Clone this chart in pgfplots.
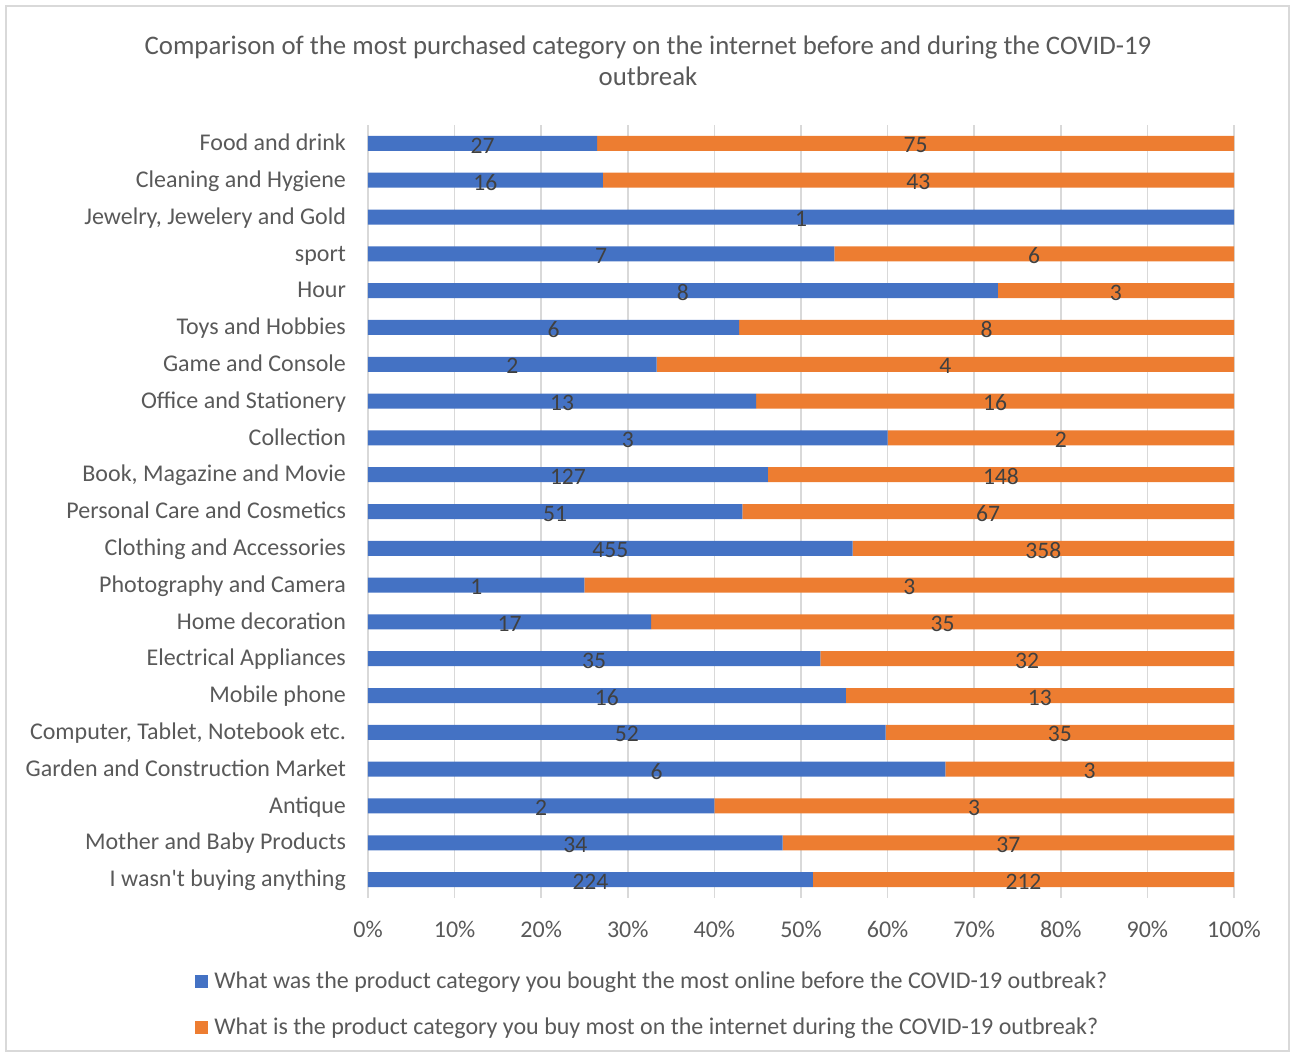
\documentclass[border=0pt]{standalone}
\usepackage{pgfplots}
\usepackage{pgfplotstable}
\pgfplotsset{compat=1.18}
\usepackage{fontspec}
\setmainfont{Carlito}
\definecolor{cblue}{HTML}{4472C4}
\definecolor{corange}{HTML}{ED7D31}
\definecolor{txt}{HTML}{595959}
\definecolor{lbl}{HTML}{404040}
\definecolor{gridc}{HTML}{D9D9D9}

\pgfplotstableread{
idx pA pB nA nB
0 26.47 73.53 27 75
1 27.12 72.88 16 43
2 100 0 1 {}
3 53.85 46.15 7 6
4 72.73 27.27 8 3
5 42.86 57.14 6 8
6 33.33 66.67 2 4
7 44.83 55.17 13 16
8 60 40 3 2
9 46.18 53.82 127 148
10 43.22 56.78 51 67
11 55.97 44.03 455 358
12 25 75 1 3
13 32.69 67.31 17 35
14 52.24 47.76 35 32
15 55.17 44.83 16 13
16 59.77 40.23 52 35
17 66.67 33.33 6 3
18 40 60 2 3
19 47.89 52.11 34 37
20 51.38 48.62 224 212
}\datatable

\begin{document}
\begin{tikzpicture}[font=\fontsize{12pt}{14pt}\selectfont]
\path (-184pt,-78pt) rectangle (461pt,449pt);
\draw[gridc, line width=0.8pt] (-181pt,-76.5pt) rectangle (460.5pt,446pt);
\node[txt, align=center, font=\fontsize{13.4pt}{15.5pt}\selectfont] at (140pt,418.5pt)
  {Comparison of the most purchased category on the internet before and during the COVID-19\\outbreak};
\begin{axis}[
  at={(0,0)}, anchor=south west,
  scale only axis, width=433pt, height=386.5pt,
  xbar stacked, bar width=7.5pt,
  y dir=reverse,
  xmin=0, xmax=100, ymin=-0.5, ymax=20.5,
  xtick={0,10,...,100},
  xticklabel={\pgfmathprintnumber{\tick}\%},
  /pgf/number format/assume math mode=true,
  ytick={0,...,20},
  yticklabels={{Food and drink},{Cleaning and Hygiene},{Jewelry, Jewelery and Gold},{sport},{Hour},{Toys and Hobbies},{Game and Console},{Office and Stationery},{Collection},{Book, Magazine and Movie},{Personal Care and Cosmetics},{Clothing and Accessories},{Photography and Camera},{Home decoration},{Electrical Appliances},{Mobile phone},{Computer, Tablet, Notebook etc.},{Garden and Construction Market},{Antique},{Mother and Baby Products},{I wasn\textquotesingle t buying anything}},
  tick style={draw=none},
  axis line style={draw=none},
  xmajorgrids, major grid style={gridc, line width=0.8pt},
  tick label style={txt, font=\fontsize{12pt}{14pt}\selectfont},
  yticklabel style={xshift=-7.5pt, text height=8.6pt, text depth=2.4pt, yshift=-0.5pt},
  xticklabel style={yshift=-8pt},
  legend style={at={(-0.1998,-0.09)}, anchor=north west, draw=none, fill=none,
    text=txt, font=\fontsize{12pt}{14pt}\selectfont, row sep=9pt,
    legend cell align=left, inner sep=0pt,
    nodes={inner xsep=3pt}},
  legend image code/.code={\fill[#1] (0pt,-3.25pt) rectangle (6.5pt,3.25pt);},
  nodes near coords,
  point meta=explicit symbolic,
  every node near coord/.append style={lbl, font=\fontsize{11.8pt}{14pt}\selectfont,
    anchor=center, yshift=-1pt},
]
\addplot[fill=cblue, draw=none] table[x=pA, y=idx, meta=nA] {\datatable};
\addplot[fill=corange, draw=none] table[x=pB, y=idx, meta=nB] {\datatable};
\legend{What was the product category you bought the most online before the COVID-19 outbreak?,
        What is the product category you buy most on the internet during the COVID-19 outbreak?}
\end{axis}
\end{tikzpicture}
\end{document}
